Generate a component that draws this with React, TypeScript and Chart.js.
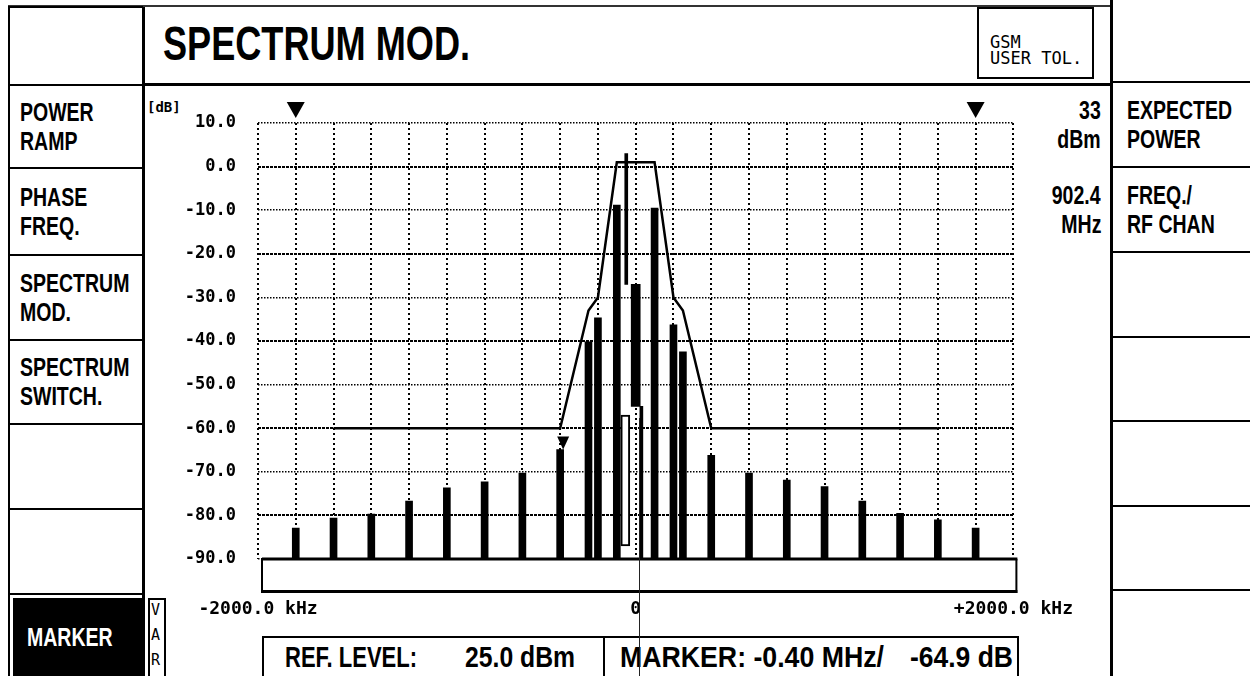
import React, { useEffect, useLayoutEffect, useRef } from "react";
import { Chart, registerables } from "chart.js";

Chart.register(...registerables);

// ---------------- data ----------------
const offsetsKHz = [-1800, -1600, -1400, -1200, -1000, -800, -600, -400, -250, -200, -100, 100, 200, 250, 400, 600, 800, 1000, 1200, 1400, 1600, 1800];
const levelsDb = [-82.9, -80.6, -79.7, -76.7, -73.7, -72.3, -70.3, -64.9, -40.2, -34.7, -8.8, -9.5, -36.3, -42.5, -66.2, -70.3, -71.9, -73.4, -76.7, -79.5, -81.0, -82.9];

const maskKHz = [-1600, -400, -250, -200, -100, 100, 200, 250, 400, 1600];
const maskDb = [-60, -60, -33, -30, 1, 1, -30, -33, -60, -60];

const spikeKHz = [-50, 30];
const spikeLowDb = [-27, -90];
const spikeHighDb = [3, -55];

const blockKHz = [0];
const blockLowDb = [-55];
const blockHighDb = [-27];

const hollowKHz = [-55];
const hollowLowDb = [-87];
const hollowHighDb = [-57];

const rangeMarkKHz = [-1800, 1800];
const markerKHz = -400;
const markerDb = -64.9;

const FLOOR_DB = -90;
const TOP_DB = 10;
const dbTicks = [-90, -80, -70, -60, -50, -40, -30, -20, -10, 0, 10];
const majorDbTicks = [-80, -60, -40, -20, 0];
const freqGridKHz = [-2000, -1800, -1600, -1400, -1200, -1000, -800, -600, -400, -200, 0, 200, 400, 600, 800, 1000, 1200, 1400, 1600, 1800, 2000];
const freqLabelKHz = [-2000, 0, 2000];
const freqLabelText = ["-2000.0 kHz", "0", "+2000.0 kHz"];

const leftButtons = [["POWER", "RAMP"], ["PHASE", "FREQ."], ["SPECTRUM", "MOD."], ["SPECTRUM", "SWITCH."], [], []];
const rightButtons = [["EXPECTED", "POWER"], ["FREQ./", "RF CHAN"], [], [], [], [], []];
const readouts = [["33", "dBm"], ["902.4", "MHz"]];

// ---------------- layout ----------------
const SANS = '"Liberation Sans", Arial, sans-serif';
const MONO = '"DejaVu Sans Mono", monospace';
const LEFT_ROWS = [7, 85, 168, 255, 340, 424, 509, 594];
const RIGHT_ROWS = [0, 82, 167, 252, 337, 421, 506, 590, 676];

function HLine({ x1, x2, y, w = 2, c = "#000" }: any) {
  return <div style={{ position: "absolute", left: x1, top: y - w / 2, width: x2 - x1, height: w, background: c }} />;
}
function VLine({ x, y1, y2, w = 2, c = "#000" }: any) {
  return <div style={{ position: "absolute", left: x - w / 2, top: y1, width: w, height: y2 - y1, background: c }} />;
}

function Txt({ x, capTop, size, sx = 0.78, right = false, color = "#000", family = SANS, weight = 700, children }: any) {
  const k = family === SANS ? 0.1305 : 0.117;
  return (
    <div
      style={{
        position: "absolute",
        top: capTop - k * size,
        ...(right ? { right: 1250 - x } : { left: x }),
        fontFamily: family,
        fontSize: size,
        fontWeight: weight,
        lineHeight: `${size}px`,
        color,
        whiteSpace: "pre",
        transform: `scaleX(${sx})`,
        transformOrigin: right ? "right top" : "left top",
      }}
    >
      {children}
    </div>
  );
}

function FitTxt({ x, capTop, size, width, text, family = SANS, weight = 700, color = "#000" }: any) {
  const ref = useRef<HTMLDivElement>(null);
  useLayoutEffect(() => {
    const el = ref.current;
    if (!el) return;
    el.style.transform = "none";
    const w = el.getBoundingClientRect().width;
    if (w > 0) el.style.transform = `scaleX(${width / w})`;
  }, [width, text]);
  const k = family === SANS ? 0.1305 : 0.117;
  return (
    <div
      ref={ref}
      style={{
        position: "absolute",
        top: capTop - k * size,
        left: x,
        fontFamily: family,
        fontSize: size,
        fontWeight: weight,
        lineHeight: `${size}px`,
        color,
        whiteSpace: "pre",
        transformOrigin: "left top",
      }}
    >
      {text}
    </div>
  );
}

function ButtonText({ top, bottom, lines, x, right = false, color = "#000" }: any) {
  if (!lines.length) return null;
  const pitch = 29;
  const cap = 18;
  const block = (lines.length - 1) * pitch + cap;
  const first = (top + bottom) / 2 - block / 2;
  return (
    <>
      {lines.map((l: string, i: number) => (
        <Txt key={i} x={x} capTop={first + i * pitch} size={25} right={right} color={color}>
          {l}
        </Txt>
      ))}
    </>
  );
}

// ---------------- chart ----------------
const framePlugin = {
  id: "frame",
  afterDatasetsDraw(chart: any) {
    const { ctx } = chart;
    const xs = chart.scales.x;
    const ys = chart.scales.y;
    const yb = ys.getPixelForValue(FLOOR_DB);
    const xl = xs.getPixelForValue(-2000);
    const xr = xs.getPixelForValue(2000);
    ctx.save();
    ctx.fillStyle = "#000";
    // baseline and the empty box below it
    ctx.fillRect(xl + 4, yb - 1.5, xr - xl, 3);
    ctx.fillRect(xl + 3, yb, 2, 34);
    ctx.fillRect(xr + 2, yb, 2, 34);
    ctx.fillRect(xl + 3, yb + 31, xr - xl + 1, 3);
    const tri = (px: number, tipY: number, w: number, h: number) => {
      ctx.beginPath();
      ctx.moveTo(px - w / 2, tipY - h);
      ctx.lineTo(px + w / 2, tipY - h);
      ctx.lineTo(px, tipY);
      ctx.closePath();
      ctx.fill();
    };
    rangeMarkKHz.forEach((v) => tri(xs.getPixelForValue(v), ys.getPixelForValue(TOP_DB) - 5, 18, 16));
    tri(xs.getPixelForValue(markerKHz) + 3, ys.getPixelForValue(markerDb), 12, 13);
    ctx.restore();
  },
};

function SpectrumChart() {
  const ref = useRef<HTMLCanvasElement>(null);
  useEffect(() => {
    const floatBars = (xsArr: number[], lo: number[], hi: number[]) => xsArr.map((x, i) => ({ x, y: [lo[i], hi[i]] }));
    const chart = new Chart(ref.current as HTMLCanvasElement, {
      type: "bar",
      data: {
        datasets: [
          {
            type: "line",
            label: "Tolerance",
            data: maskKHz.map((x, i) => ({ x, y: maskDb[i] })),
            borderColor: "#000",
            borderWidth: 2.5,
            pointRadius: 0,
            fill: false,
            tension: 0,
            order: 0,
          },
          {
            type: "bar",
            label: "Hollow",
            data: floatBars(hollowKHz, hollowLowDb, hollowHighDb),
            backgroundColor: "#fff",
            borderColor: "#000",
            borderWidth: 2,
            borderSkipped: false,
            barThickness: 9,
            grouped: false,
            order: 1,
          },
          {
            type: "bar",
            label: "Carrier block",
            data: floatBars(blockKHz, blockLowDb, blockHighDb),
            backgroundColor: "#000",
            barThickness: 9,
            grouped: false,
            order: 2,
          },
          {
            type: "bar",
            label: "Carrier spike",
            data: floatBars(spikeKHz, spikeLowDb, spikeHighDb),
            backgroundColor: "#000",
            barThickness: 3,
            grouped: false,
            order: 2,
          },
          {
            type: "bar",
            label: "Spectrum",
            data: offsetsKHz.map((x, i) => ({ x, y: [FLOOR_DB, levelsDb[i]] })),
            backgroundColor: "#000",
            barThickness: 7,
            grouped: false,
            order: 3,
          },
        ],
      } as any,
      options: {
        responsive: false,
        animation: false,
        devicePixelRatio: 1,
        events: [],
        layout: { padding: { top: 35, right: 98, bottom: 0, left: 0 } },
        plugins: { legend: { display: false }, tooltip: { enabled: false } },
        scales: {
          x: {
            type: "linear",
            min: -2000,
            max: 2000,
            offset: false,
            afterBuildTicks: (s: any) => {
              s.ticks = freqGridKHz.map((v) => ({ value: v }));
            },
            afterFit: (s: any) => {
              s.height = 69;
            },
            ticks: {
              autoSkip: false,
              maxRotation: 0,
              minRotation: 0,
              padding: 40,
              color: "#000",
              font: { family: "DejaVu Sans Mono", size: 18, weight: "bold" },
              callback: (v: any) => {
                const i = freqLabelKHz.indexOf(Number(v));
                return i >= 0 ? freqLabelText[i] : "";
              },
            },
            grid: { color: "#000", lineWidth: 2, drawTicks: false, offset: false },
            border: { display: false, dash: [2, 3] },
          },
          y: {
            type: "linear",
            min: FLOOR_DB,
            max: TOP_DB,
            afterBuildTicks: (s: any) => {
              s.ticks = dbTicks.map((v) => ({ value: v }));
            },
            afterFit: (s: any) => {
              s.width = 115;
            },
            ticks: {
              padding: 22,
              color: "#000",
              font: { family: "DejaVu Sans Mono", size: 17, weight: "bold" },
              callback: (v: any) => Number(v).toFixed(1),
            },
            grid: {
              color: "#000",
              drawTicks: false,
              lineWidth: (c: any) => (majorDbTicks.includes(c.tick?.value) ? 2 : 1.5),
            },
            border: {
              display: false,
              dash: (c: any) => (majorDbTicks.includes(c.tick?.value) ? [3, 1] : [1.5, 1.5]),
            },
          },
        },
      } as any,
      plugins: [framePlugin],
    });
    return () => chart.destroy();
  }, []);
  return (
    <canvas
      ref={ref}
      width={970}
      height={540}
      style={{ position: "absolute", left: 143, top: 88, width: 970, height: 540 }}
    />
  );
}

export default function App() {
  return (
    <div style={{ position: "fixed", left: 0, top: 0, width: 1250, height: 676, background: "#fff", overflow: "hidden" }}>
      {/* header */}
      <HLine x1={8} x2={1113} y={6} w={2} c="#333" />
      <HLine x1={143} x2={1113} y={84} w={3} />
      <FitTxt x={163} capTop={25} size={49} width={307} text="SPECTRUM MOD." />
      <div style={{ position: "absolute", left: 977, top: 7, width: 113, height: 68, border: "2px solid #000" }} />
      <div
        style={{
          position: "absolute",
          left: 990,
          top: 33.5,
          fontFamily: MONO,
          fontSize: 17,
          lineHeight: "16px",
          whiteSpace: "pre",
          color: "#000",
        }}
      >
        {"GSM\nUSER TOL."}
      </div>

      {/* left column */}
      <VLine x={9} y1={7} y2={676} w={2} />
      <VLine x={143} y1={7} y2={676} w={3} />
      {LEFT_ROWS.map((y, i) => (
        <HLine key={i} x1={8} x2={143} y={y} w={2} />
      ))}
      {leftButtons.map((lines, i) => (
        <ButtonText key={i} top={LEFT_ROWS[i + 1]} bottom={LEFT_ROWS[i + 2]} lines={lines} x={20} />
      ))}
      <div style={{ position: "absolute", left: 13, top: 598, width: 132, height: 78, background: "#000" }} />
      <ButtonText top={598} bottom={676} lines={["MARKER"]} x={27} color="#fff" />
      <div style={{ position: "absolute", left: 148, top: 598, width: 14, height: 80, border: "2px solid #000" }} />
      <div
        style={{
          position: "absolute",
          left: 151,
          top: 598,
          fontFamily: MONO,
          fontSize: 15,
          lineHeight: "25px",
          whiteSpace: "pre",
          color: "#000",
        }}
      >
        {"V\nA\nR"}
      </div>

      {/* right column */}
      <VLine x={1111} y1={0} y2={676} w={3} />
      {RIGHT_ROWS.slice(1, -1).map((y, i) => (
        <HLine key={i} x1={1111} x2={1250} y={y} w={2} />
      ))}
      {rightButtons.map((lines, i) => (
        <ButtonText key={i} top={RIGHT_ROWS[i + 1]} bottom={RIGHT_ROWS[i + 2]} lines={lines} x={1127} />
      ))}
      {readouts.map((lines, i) => (
        <ButtonText key={i} top={RIGHT_ROWS[i + 1]} bottom={RIGHT_ROWS[i + 2]} lines={lines} x={1101} right />
      ))}

      {/* y axis unit */}
      <Txt x={147} capTop={102} size={14} family={MONO} sx={1}>
        [dB]
      </Txt>

      <SpectrumChart />

      {/* status bar */}
      <div style={{ position: "absolute", left: 262, top: 636, width: 753, height: 50, border: "2px solid #000" }} />
      <VLine x={604} y1={637} y2={676} w={2} />
      <FitTxt x={285} capTop={647} size={29} width={132} text="REF. LEVEL:" />
      <FitTxt x={465} capTop={647} size={29} width={110} text="25.0 dBm" />
      <FitTxt x={620} capTop={647} size={29} width={264} text="MARKER: -0.40 MHz/" />
      <FitTxt x={910} capTop={647} size={29} width={103} text="-64.9 dB" />

      {/* thin centre line of the display */}
      <VLine x={639} y1={418} y2={676} w={1} c="#222" />
    </div>
  );
}
